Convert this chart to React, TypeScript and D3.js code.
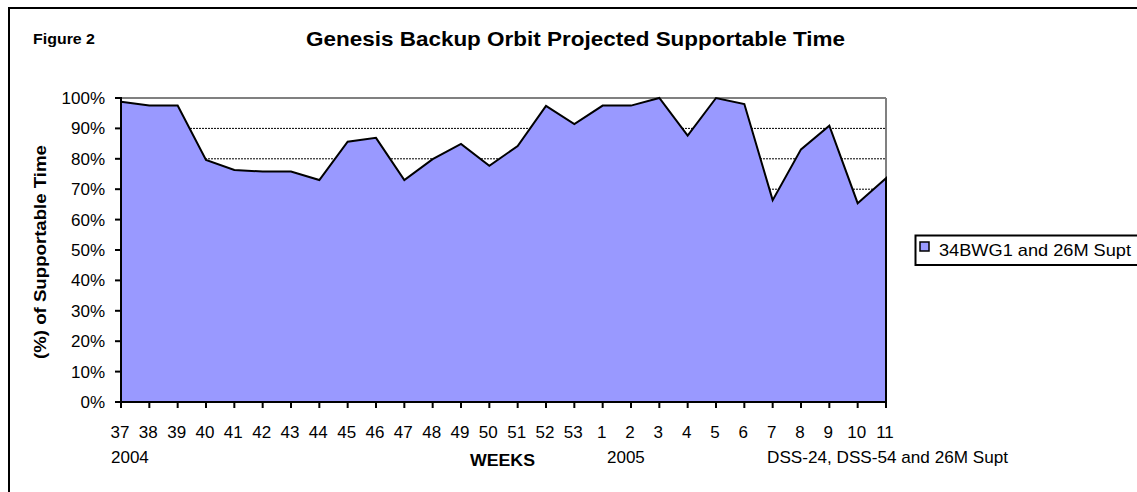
import React from "react";
import * as d3 from "d3";

const weeks: string[] = [
  "37", "38", "39", "40", "41", "42", "43", "44", "45", "46", "47", "48", "49", "50", "51", "52", "53",
  "1", "2", "3", "4", "5", "6", "7", "8", "9", "10", "11",
];
const supportPct: number[] = [
  98.8, 97.5, 97.5, 79.6, 76.3, 75.8, 75.8, 73.0, 85.6, 86.9, 73.0, 79.9, 84.9, 77.7, 84.2, 97.4, 91.4,
  97.5, 97.5, 100, 87.6, 100, 98.0, 66.4, 83.1, 90.9, 65.4, 73.6,
];
const yTicks: number[] = [0, 10, 20, 30, 40, 50, 60, 70, 80, 90, 100];
const gridTicks: number[] = [10, 20, 30, 40, 50, 60, 70, 80, 90];
const seriesName = "34BWG1 and 26M Supt";
const titleText = "Genesis Backup Orbit Projected Supportable Time";
const figureLabel = "Figure 2";
const yTitle = "(%) of Supportable Time";
const xTitle = "WEEKS";
const yearLabels: { text: string; x: number }[] = [
  { text: "2004", x: 111 },
  { text: "2005", x: 607 },
];
const noteText = "DSS-24, DSS-54 and 26M Supt";

const FONT = "'Liberation Sans', Arial, Helvetica, sans-serif";
const FILL = "#9999FF";

export default function App() {
  const W = 1137;
  const H = 492;
  const left = 121;
  const right = 886;
  const top = 98;
  const bottom = 402;

  const x = d3.scalePoint<string>().domain(weeks).range([left, right]);
  const y = d3.scaleLinear().domain([0, 100]).range([bottom, top]);

  const data = weeks.map((w, i) => ({ w, v: supportPct[i] }));
  const area = d3
    .area<{ w: string; v: number }>()
    .x((d) => x(d.w) as number)
    .y0(y(0))
    .y1((d) => y(d.v));
  const areaPath = area(data) as string;

  return (
    <svg
      width={W}
      height={H}
      style={{ position: "absolute", left: 0, top: 0, background: "#fff" }}
      fontFamily={FONT}
    >
      <rect x={0} y={0} width={W} height={H} fill="#fff" />
      {/* outer frame */}
      <rect x={9} y={8} width={1160} height={520} fill="none" stroke="#000" strokeWidth={2} />

      <text x={33} y={44} fontSize={15} fontWeight="bold" textLength={62} lengthAdjust="spacingAndGlyphs">
        {figureLabel}
      </text>
      <text x={306} y={46} fontSize={21} fontWeight="bold" textLength={539} lengthAdjust="spacingAndGlyphs">
        {titleText}
      </text>

      {/* gridlines */}
      {gridTicks.map((t) => (
        <line
          key={"g" + t}
          x1={left}
          x2={right}
          y1={y(t)}
          y2={y(t)}
          stroke="#000"
          strokeWidth={1}
          strokeDasharray="2,1"
        />
      ))}
      {/* plot border (grey) */}
      <line x1={left} x2={right} y1={top} y2={top} stroke="#808080" strokeWidth={2} />
      <line x1={right} x2={right} y1={top} y2={bottom} stroke="#808080" strokeWidth={2} />

      {/* area */}
      <path d={areaPath} fill={FILL} stroke="#000" strokeWidth={2} strokeLinejoin="miter" />

      {/* y axis */}
      <line x1={left} x2={left} y1={top - 1} y2={bottom + 1} stroke="#000" strokeWidth={2} />
      {yTicks.map((t) => (
        <g key={"y" + t}>
          <line x1={left - 6} x2={left} y1={y(t)} y2={y(t)} stroke="#000" strokeWidth={2} />
          <text x={105} y={y(t) + 6} fontSize={17} textAnchor="end">
            {t + "%"}
          </text>
        </g>
      ))}

      {/* x axis */}
      <line x1={left - 1} x2={right + 1} y1={bottom} y2={bottom} stroke="#000" strokeWidth={2} />
      {weeks.map((w) => (
        <g key={"x" + w}>
          <line x1={x(w) as number} x2={x(w) as number} y1={bottom} y2={bottom + 6} stroke="#000" strokeWidth={2} />
          <text x={(x(w) as number) - 1} y={438} fontSize={17} textAnchor="middle">
            {w}
          </text>
        </g>
      ))}

      {yearLabels.map((l) => (
        <text key={l.text} x={l.x} y={463} fontSize={17}>
          {l.text}
        </text>
      ))}
      <text x={470} y={466} fontSize={17} fontWeight="bold" textLength={65} lengthAdjust="spacingAndGlyphs">
        {xTitle}
      </text>
      <text x={767} y={463} fontSize={17} textLength={241} lengthAdjust="spacingAndGlyphs">
        {noteText}
      </text>

      {/* y title */}
      <text
        transform={`translate(46, ${(top + bottom) / 2 + 2}) rotate(-90)`}
        fontSize={17}
        fontWeight="bold"
        textAnchor="middle"
        textLength={214}
        lengthAdjust="spacingAndGlyphs"
      >
        {yTitle}
      </text>

      {/* legend */}
      <rect x={915.5} y={235.5} width={260} height={29.5} fill="#fff" stroke="#000" strokeWidth={2} />
      <rect x={920} y={242} width={9} height={9} fill={FILL} stroke="#000" strokeWidth={1.5} />
      <text x={939} y={256} fontSize={17} textLength={192} lengthAdjust="spacingAndGlyphs">
        {seriesName}
      </text>
    </svg>
  );
}
